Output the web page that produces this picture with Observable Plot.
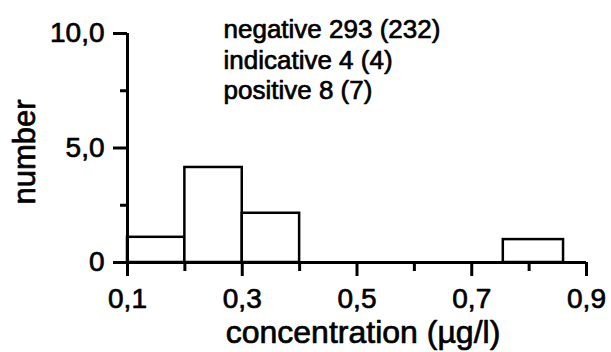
<!DOCTYPE html>
<html><head><meta charset="utf-8">
<script src="https://cdn.jsdelivr.net/npm/d3@7"></script>
<script src="https://cdn.jsdelivr.net/npm/@observablehq/plot@0.6"></script>
<style>body{margin:0;background:#fff}</style>
</head><body><div id="chart"></div>
<script>
const binStart = [0.1, 0.2, 0.3, 0.755];
const binEnd = [0.2, 0.3, 0.4, 0.86];
const counts = [1.1, 4.15, 2.15, 1.0];
const xTicks = [0.1, 0.3, 0.5, 0.7, 0.9];
const xTickLabels = ["0,1", "0,3", "0,5", "0,7", "0,9"];
const xMinorTicks = [0.2, 0.4, 0.6, 0.8];
const yTicks = [0, 5, 10];
const yTickLabels = ["0", "5,0", "10,0"];
const yMinorTicks = [2.5, 7.5];
const legendLines = ["negative 293 (232)", "indicative 4 (4)", "positive 8 (7)"];
const xLabel = "concentration (µg/l)";
const yLabel = "number";

const bars = counts.map((c, i) => ({x1: binStart[i], x2: binEnd[i], y: c}));
const heavy = {stroke: "black", strokeWidth: 0.7, fill: "black"};

const chart = Plot.plot({
  width: 611, height: 352,
  marginLeft: 127, marginRight: 25, marginTop: 33, marginBottom: 90,
  style: {fontFamily: "'Liberation Sans', Arial, sans-serif", background: "#fff", color: "#000"},
  x: {domain: [0.1, 0.9]},
  y: {domain: [0, 10]},
  marks: [
    Plot.rectY(bars, {x1: "x1", x2: "x2", y: "y", fill: "white", stroke: "black", strokeWidth: 2.5}),
    Plot.ruleY([0], {x1: 0.1, x2: 0.9, stroke: "black", strokeWidth: 3}),
    Plot.ruleX([0.1], {y1: 0, y2: 10, stroke: "black", strokeWidth: 3}),
    Plot.axisX(xTicks, {tickSize: 14, tickPadding: 12, strokeWidth: 3, fontSize: 28, fill: "black",
      textStroke: "black", textStrokeWidth: 0.7,
      tickFormat: d => xTickLabels[xTicks.indexOf(d)], label: null}),
    Plot.axisX(xMinorTicks, {tickSize: 9, strokeWidth: 3, tickFormat: () => "", label: null}),
    Plot.axisY(yTicks, {tickSize: 14, tickPadding: 9, strokeWidth: 3, fontSize: 28, fill: "black",
      textStroke: "black", textStrokeWidth: 0.7,
      tickFormat: d => yTickLabels[yTicks.indexOf(d)], label: null}),
    Plot.axisY(yMinorTicks, {tickSize: 7, strokeWidth: 3, tickFormat: () => "", label: null}),
    Plot.text([xLabel], {frameAnchor: "bottom", dx: 6, dy: 80, lineAnchor: "bottom", fontSize: 32, ...heavy}),
    Plot.text([yLabel], {frameAnchor: "left", dx: -102, dy: 4, rotate: -90, textAnchor: "middle",
      lineAnchor: "middle", fontSize: 31, ...heavy}),
    Plot.text([legendLines.join("\n")], {frameAnchor: "top-left", dx: 96, dy: -17, lineAnchor: "top",
      textAnchor: "start", fontSize: 26, lineHeight: 1.17, ...heavy})
  ]
});
document.getElementById("chart").appendChild(chart);
</script>
</body></html>
